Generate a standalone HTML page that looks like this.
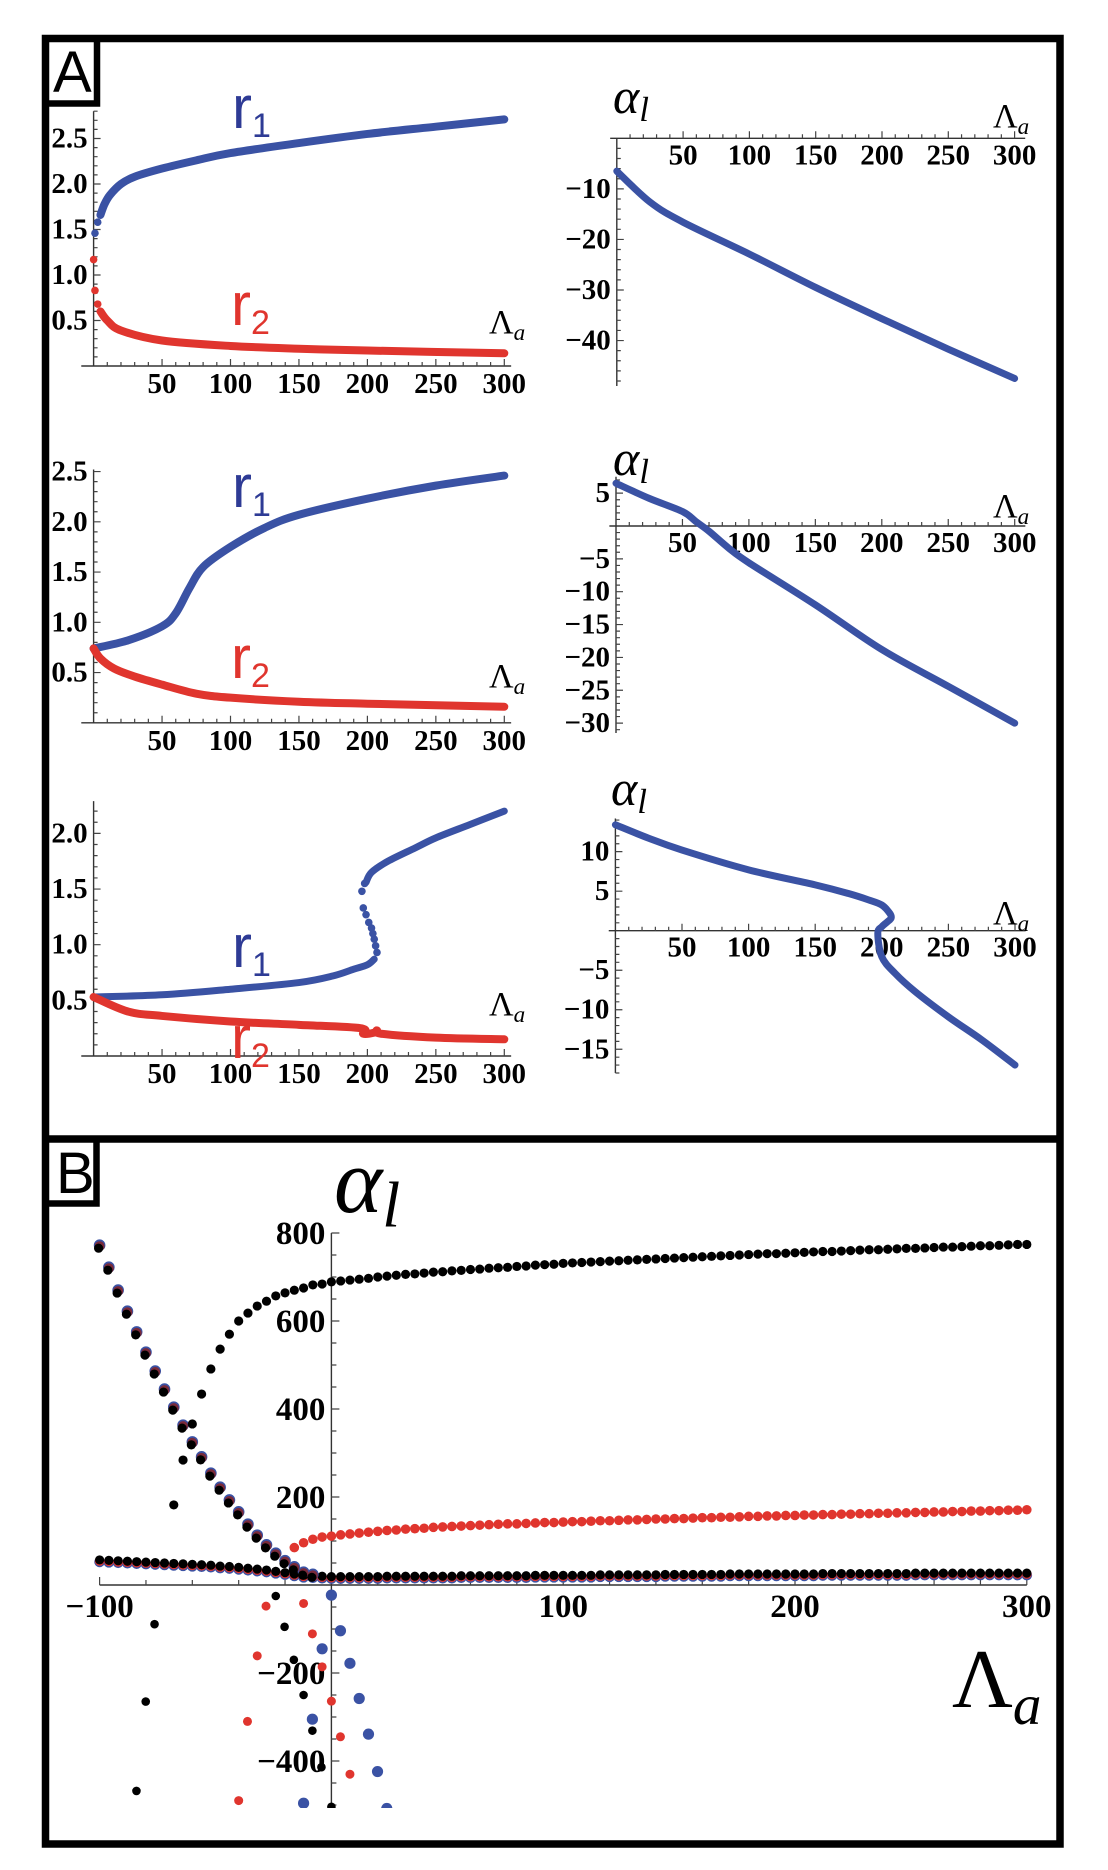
<!DOCTYPE html>
<html><head><meta charset="utf-8"><style>
html,body{margin:0;padding:0;background:#fff;}
svg{display:block;}
.tk{font-family:"Liberation Serif",serif;font-weight:bold;font-size:29px;fill:#000;}
.tkb{font-family:"Liberation Serif",serif;font-weight:bold;font-size:33px;fill:#000;}
.math{font-family:"Liberation Serif",serif;fill:#000;}
.lbl{font-family:"Liberation Sans",sans-serif;}
</style></head>
<body>
<svg id="fig" width="1108" height="1870" viewBox="0 0 1108 1870" xmlns="http://www.w3.org/2000/svg">
<rect x="0" y="0" width="1108" height="1870" fill="#fff"/>
<g fill="none" stroke="#000" stroke-width="7.5">
<rect x="45.5" y="38.5" width="1014.5" height="1805.5"/>
<line x1="45" y1="1139" x2="1060" y2="1139"/>
</g>
<g>
<path d="M45 103.5 H97 V38" fill="none" stroke="#000" stroke-width="6.5"/>
<text x="53" y="92" class="lbl" font-size="58" fill="#000">A</text>
</g>
<g>
<path d="M45 1203.5 H96.5 V1139" fill="none" stroke="#000" stroke-width="6.5"/>
<text x="56" y="1193" class="lbl" font-size="58" fill="#000">B</text>
</g>
<g id="plots"></g>
<defs><clipPath id="bclip"><rect x="50" y="1145" width="1005" height="663"/></clipPath></defs>
</svg>
<script>
// ---------- Panel A data ----------
const p1_r1_x=[5,8,12,20,30,50,75,100,150,200,250,300];
const p1_r1_y=[1.66,1.78,1.88,2.0,2.08,2.17,2.26,2.34,2.45,2.55,2.63,2.71];
const p1_r1_dx=[1,3];
const p1_r1_dy=[1.46,1.58];
const p1_r2_x=[5,10,20,50,100,150,200,300];
const p1_r2_y=[0.6,0.5,0.39,0.28,0.22,0.19,0.17,0.14];
const p1_r2_dx=[0,1,3];
const p1_r2_dy=[1.17,0.83,0.68];
const p1_al_x=[0,25,50,100,150,200,250,300];
const p1_al_y=[-6.5,-12.6,-16.6,-22.9,-29.5,-35.7,-41.7,-47.5];

const p2_r1_x=[0,25,50,60,70,80,100,125,150,200,250,300];
const p2_r1_y=[0.74,0.82,0.96,1.09,1.34,1.55,1.75,1.94,2.07,2.23,2.36,2.46];
const p2_r2_x=[0,5,15,30,50,75,100,150,200,300];
const p2_r2_y=[0.74,0.64,0.54,0.46,0.38,0.29,0.25,0.21,0.19,0.16];
const p2_al_x=[0,25,50,60,70,85,100,150,200,250,300];
const p2_al_y=[6.5,4.2,2.2,0.7,-0.8,-3.4,-5.6,-12,-18.8,-24.4,-30];

const p3_r1_lo_x=[0,50,100,150,175,190,200,205];
const p3_r1_lo_y=[0.53,0.55,0.6,0.66,0.72,0.78,0.82,0.87];
const p3_r1_dx=[207,206,205,204,203,201,199,197,196,198];
const p3_r1_dy=[0.93,0.99,1.05,1.1,1.15,1.2,1.27,1.33,1.48,1.55];
const p3_r1_hi_x=[199,203,215,235,250,275,300];
const p3_r1_hi_y=[1.56,1.65,1.75,1.87,1.96,2.08,2.2];
const p3_r2_x=[0,25,50,100,150,195,197,205,207,210,250,300];
const p3_r2_y=[0.53,0.40,0.36,0.31,0.28,0.25,0.2,0.21,0.23,0.2,0.165,0.15];
const p3_al_x=[0,25,50,100,150,175,190,200,206,207,204,200,197,200,210,225,250,275,300];
const p3_al_y=[13.4,11.7,10.2,7.7,5.8,4.7,3.9,3.25,2.2,1.6,1.1,0.5,-0.3,-3.3,-5.4,-7.7,-10.9,-13.8,-17];

const leftTicksX=[50,100,150,200,250,300];
const p1_yTicks=[0.5,1.0,1.5,2.0,2.5];
const p2_yTicks=[0.5,1.0,1.5,2.0,2.5];
const p3_yTicks=[0.5,1.0,1.5,2.0];
const r1_yTicks=[-10,-20,-30,-40];
const r2_yTicks=[5,-5,-10,-15,-20,-25,-30];
const r3_yTicks=[10,5,-5,-10,-15];

// ---------- Panel B data ----------
const bUp_x=[-68,-64,-60,-56,-52,-48,-44,-40,-36,-32,-28,-24,-20,-16,-12,-8,-4,0,4,8,12,16,20,24,28,32,36,40,44,48,52,56,60,64,68,72,76,80,84,88,92,96,100,104,108,112,116,120,124,128,132,136,140,144,148,152,156,160,164,168,172,176,180,184,188,192,196,200,204,208,212,216,220,224,228,232,236,240,244,248,252,256,260,264,268,272,276,280,284,288,292,296,300];
const bUp_y=[182,284,366,434,491,536,570,600,618,634,645,657,664,670,675,682,684,689,691,693,695,697,700,702,704,706,707,709,711,712,714,715,717,718,720,721,722,724,725,727,728,729,731,732,733,734,735,736,737,738,739,740,741,742,743,744,745,746,747,748,749,750,751,752,753,753,754,755,756,757,758,758,759,760,761,762,762,763,764,765,765,766,767,768,768,769,770,771,771,772,773,774,774];
const rUp_x=[-16,-12,-8,-4,0,4,8,12,16,20,24,28,32,36,40,44,48,52,56,60,64,68,72,76,80,84,88,92,96,100,104,108,112,116,120,124,128,132,136,140,144,148,152,156,160,164,168,172,176,180,184,188,192,196,200,204,208,212,216,220,224,228,232,236,240,244,248,252,256,260,264,268,272,276,280,284,288,292,296,300];
const rUp_y=[85,96,104,109,111,114,116,118,120,122,124,125,127,128,129,131,132,133,134,135,136,137,138,139,139,140,141,142,142,143,144,144,145,146,146,147,148,148,149,150,150,151,151,152,153,153,154,154,155,156,156,157,157,158,158,159,159,160,160,161,161,162,162,163,163,164,164,165,165,166,166,167,167,168,168,169,169,170,170,171];
const diag_x=[-100,-96,-92,-88,-84,-80,-76,-72,-68,-64,-60,-56,-52,-48,-44,-40,-36,-32,-28,-24,-20,-16,-12,-8];
const diag_y=[770,720,668,620,573,527,484,443,402,361,323,289,252,220,191,164,136,111,89,70,53,39,27,22];
const low_x=[-100,-96,-92,-88,-84,-80,-76,-72,-68,-64,-60,-56,-52,-48,-44,-40,-36,-32,-28,-24,-20,-16,-12,-8,-4,0,4,8,12,16,20,24,28,32,36,40,44,48,52,56,60,64,68,72,76,80,84,88,92,96,100,104,108,112,116,120,124,128,132,136,140,144,148,152,156,160,164,168,172,176,180,184,188,192,196,200,204,208,212,216,220,224,228,232,236,240,244,248,252,256,260,264,268,272,276,280,284,288,292,296,300];
const low_y=[57,56,55,54,53,52,51,50,49,48,47,46,45,43,42,40,38,36,34,31,28,25,22,21,20,19,19,19,19,19,19,20,20,20,20,20,20,20,20,21,21,21,21,21,21,21,21,22,22,22,22,22,22,22,23,23,23,23,23,23,23,24,24,24,24,24,24,24,25,25,25,25,25,25,25,25,25,25,26,26,26,26,26,26,26,26,26,26,27,27,27,27,27,27,27,27,27,27,27,27,27];
const negK_x=[-24,-76.3,-20.2,-16.2,-80.1,-12,-8.2,-4.3,-84.1,0];
const negK_y=[-25,-89,-95,-170,-265,-250,-331,-414,-468,-504];
const negR_x=[-28.2,-12,-8.2,-32,-4,0,-36.2,3.9,8,-40];
const negR_y=[-48,-42,-111,-161,-186,-264,-310,-345,-430,-490];
const negB_x=[0,3.9,-4,8,12,-8.2,16,19.9,-12,23.9];
const negB_y=[-23,-104,-145,-178,-258,-305,-339,-424,-496,-508];
const bTicksX=[-100,100,200,300];
const bTicksY=[800,600,400,200,-200,-400];

// ---------- drawing ----------
const NS="http://www.w3.org/2000/svg";
const root=document.getElementById('plots');
const BLUE="#3a52a4", RED="#e0352e";
function el(tag,parent){const e=document.createElementNS(NS,tag);parent.appendChild(e);return e;}
function mkScale(x0,xs,y0,ys){return {x:v=>x0+v*xs,y:v=>y0-v*ys,x0:x0,y0:y0};}

function axes(g,S,xr,yr,xminor,xmajor,yminor,ymajor,maj,mnr){
  const ax=el('line',g);
  
  
  ax.setAttribute('x1',S.x(xr[0]));ax.setAttribute('x2',S.x(xr[1]));
  ax.setAttribute('y1',S.y(0));ax.setAttribute('y2',S.y(0));
  ax.setAttribute('stroke','#333');ax.setAttribute('stroke-width','1.4');
  const ay=el('line',g);
  
  
  ay.setAttribute('x1',S.x(0));ay.setAttribute('x2',S.x(0));
  ay.setAttribute('y1',S.y(yr[0]));ay.setAttribute('y2',S.y(yr[1]));
  ay.setAttribute('stroke','#333');ay.setAttribute('stroke-width','1.4');
  let d='';
  for(let v=Math.ceil(xr[0]/xminor)*xminor; v<=xr[1]+1e-9; v+=xminor){
    if(Math.abs(v)<1e-9)continue;
    const L=(Math.abs(v/xmajor-Math.round(v/xmajor))<1e-6)?maj:mnr;
    d+='M'+S.x(v)+' '+S.y(0)+'v'+(-L);
  }
  for(let v=Math.ceil(yr[0]/yminor)*yminor; v<=yr[1]+1e-9; v+=yminor){
    if(Math.abs(v)<1e-9)continue;
    const L=(Math.abs(v/ymajor-Math.round(v/ymajor))<1e-6)?maj:mnr;
    d+='M'+S.x(0)+' '+S.y(v)+'h'+L;
  }
  const t=el('path',g);
  
  
  t.setAttribute('d',d);t.setAttribute('stroke','#444');t.setAttribute('stroke-width','1.2');t.setAttribute('fill','none');
}
function fmt(v,dec){const s=Math.abs(v).toFixed(dec);return (v<0?'\u2212':'')+s;}
function xLabels(g,S,ticks,dy,cls){
  ticks.forEach(v=>{const t=el('text',g);
    
    
    t.setAttribute('x',S.x(v));t.setAttribute('y',S.y(0)+dy);t.setAttribute('text-anchor','middle');t.setAttribute('class',cls);t.textContent=fmt(v,0);});
}
function yLabels(g,S,ticks,dec,dy,cls){
  ticks.forEach(v=>{const t=el('text',g);
    
    
    t.setAttribute('x',S.x(0)-6);t.setAttribute('y',S.y(v)+dy);t.setAttribute('text-anchor','end');t.setAttribute('class',cls);t.textContent=fmt(v,dec);});
}
function smoothPath(pts){
  let d='M'+pts[0][0]+' '+pts[0][1];
  for(let i=0;i<pts.length-1;i++){
    const p0=pts[Math.max(i-1,0)],p1=pts[i],p2=pts[i+1],p3=pts[Math.min(i+2,pts.length-1)];
    const c1x=p1[0]+(p2[0]-p0[0])/6,c1y=p1[1]+(p2[1]-p0[1])/6;
    const c2x=p2[0]-(p3[0]-p1[0])/6,c2y=p2[1]-(p3[1]-p1[1])/6;
    d+=' C'+c1x+' '+c1y+' '+c2x+' '+c2y+' '+p2[0]+' '+p2[1];
  }
  return d;
}
function line(g,S,xs,ys,color,name,w){
  const p=el('path',g);
  
  
  p.setAttribute('d',smoothPath(xs.map((x,i)=>[S.x(x),S.y(ys[i])])));
  p.setAttribute('fill','none');p.setAttribute('stroke',color);p.setAttribute('stroke-width',w||7);
  p.setAttribute('stroke-linecap','round');p.setAttribute('stroke-linejoin','round');
}
function dots(g,S,xs,ys,color,r,name,dx,dy){
  xs.forEach((x,i)=>{const c=el('circle',g);
    
    
    c.setAttribute('cx',S.x(x)+(dx||0));c.setAttribute('cy',S.y(ys[i])+(dy||0));c.setAttribute('r',r);c.setAttribute('fill',color);});
}
function rLabel(g,x,y,num,color,name){
  const t=el('text',g);
  
  
  t.setAttribute('x',x);t.setAttribute('y',y);t.setAttribute('class','lbl');t.setAttribute('fill',color);t.setAttribute('font-size','60');
  t.innerHTML='r<tspan font-size="34" dy="9">'+num+'</tspan>';
}
function lamLabel(g,x,y,fs,name){
  const t=el('text',g);
  
  
  t.setAttribute('x',x);t.setAttribute('y',y);t.setAttribute('class','math');t.setAttribute('font-size',fs);
  t.innerHTML='\u039B<tspan font-style="italic" font-size="'+(fs*0.68)+'" dy="'+(fs*0.2)+'">a</tspan>';
}
function alLabel(g,x,y,fs,name){
  const t=el('text',g);
  
  
  t.setAttribute('x',x);t.setAttribute('y',y);t.setAttribute('class','math');t.setAttribute('font-size',fs);t.setAttribute('font-style','italic');
  t.innerHTML='\u03B1<tspan font-size="'+(fs*0.7)+'" dy="'+(fs*0.16)+'">l</tspan>';
}
function panel(name){const g=el('g',root);return g;}

// Row 1
let g=panel('plot-r-row1');
let S=mkScale(93.6,1.369,366,91);
axes(g,S,[-9,305],[0,2.8],10,50,0.1,0.5,7,4);
xLabels(g,S,leftTicksX,27,'tk'); yLabels(g,S,p1_yTicks,1,9,'tk');
line(g,S,p1_r1_x,p1_r1_y,BLUE,'r1-curve',8); dots(g,S,p1_r1_dx,p1_r1_dy,BLUE,3.8,'r1-point');
line(g,S,p1_r2_x,p1_r2_y,RED,'r2-curve',8); dots(g,S,p1_r2_dx,p1_r2_dy,RED,3.8,'r2-point');
rLabel(g,232,128,'1','#2e3b95','r1-label'); rLabel(g,231,325,'2',RED,'r2-label');
lamLabel(g,489,333,34,'x-axis-title');

g=panel('plot-alpha-row1');
S=mkScale(616.8,1.326,138.3,5.056);
axes(g,S,[-5,308],[-49,0],10,50,2,10,7,4);
xLabels(g,S,leftTicksX,26,'tk'); yLabels(g,S,r1_yTicks,0,9,'tk');
line(g,S,p1_al_x,p1_al_y,BLUE,'alpha-curve',7);
alLabel(g,613,113,50,'y-axis-title'); lamLabel(g,993,127,34,'x-axis-title');

// Row 2
g=panel('plot-r-row2');
S=mkScale(93.6,1.369,722.8,100.5);
axes(g,S,[-9,305],[0,2.52],10,50,0.1,0.5,7,4);
xLabels(g,S,leftTicksX,27,'tk'); yLabels(g,S,p2_yTicks,1,9,'tk');
line(g,S,p2_r1_x,p2_r1_y,BLUE,'r1-curve',8);
line(g,S,p2_r2_x,p2_r2_y,RED,'r2-curve',8);
rLabel(g,232,507,'1','#2e3b95','r1-label'); rLabel(g,231,678,'2',RED,'r2-label');
lamLabel(g,489,687,34,'x-axis-title');

g=panel('plot-alpha-row2');
S=mkScale(616,1.329,526,6.571);
axes(g,S,[-5,308],[-31.5,7.5],10,50,1,5,7,4);
xLabels(g,S,leftTicksX,26,'tk'); yLabels(g,S,r2_yTicks,0,9,'tk');
line(g,S,p2_al_x,p2_al_y,BLUE,'alpha-curve',7);
alLabel(g,613,475,50,'y-axis-title'); lamLabel(g,993,517,34,'x-axis-title');

// Row 3
g=panel('plot-r-row3');
S=mkScale(93.6,1.369,1056,111.3);
axes(g,S,[-9,305],[0,2.29],10,50,0.1,0.5,7,4);
xLabels(g,S,leftTicksX,27,'tk'); yLabels(g,S,p3_yTicks,1,9,'tk');
line(g,S,p3_r1_lo_x,p3_r1_lo_y,BLUE,'r1-curve',7);
dots(g,S,p3_r1_dx,p3_r1_dy,BLUE,3.8,'r1-point');
line(g,S,p3_r1_hi_x,p3_r1_hi_y,BLUE,'r1-curve',7);
line(g,S,p3_r2_x,p3_r2_y,RED,'r2-curve',8);
rLabel(g,232,967,'1','#2e3b95','r1-label'); rLabel(g,231,1058,'2',RED,'r2-label');
lamLabel(g,489,1015,34,'x-axis-title');

g=panel('plot-alpha-row3');
S=mkScale(615.4,1.332,930.7,7.904);
axes(g,S,[-5,308],[-18,14.2],10,50,1,5,7,4);
xLabels(g,S,leftTicksX,26,'tk'); yLabels(g,S,r3_yTicks,0,9,'tk');
line(g,S,p3_al_x,p3_al_y,BLUE,'alpha-curve',7);
alLabel(g,611,805,50,'y-axis-title'); lamLabel(g,993,924,34,'x-axis-title');

// Panel B
g=panel('plot-b');
S=mkScale(331.4,2.318,1585,0.44);
axes(g,S,[-100,300],[-505,800],20,100,50,200,8,5);
xLabels(g,S,bTicksX,32,'tkb'); yLabels(g,S,bTicksY,0,11,'tkb');
const gb=el('g',g);


gb.setAttribute('clip-path','url(#bclip)');
dots(gb,S,low_x,low_y,BLUE,5.3,'branch-low-blue',0,2);
dots(gb,S,low_x,low_y,RED,4.8,'branch-low-red',0,1);
dots(gb,S,low_x,low_y,'#000',4.6,'branch-low-black',0,0);
dots(gb,S,diag_x,diag_y,BLUE,5.8,'branch-diag-blue',0,-1);
dots(gb,S,diag_x,diag_y,'#7a2a3a',5,'branch-diag-red',0,0);
dots(gb,S,diag_x,diag_y,'#000',4.6,'branch-diag-black',-1,2);
dots(gb,S,bUp_x,bUp_y,'#000',4.6,'branch-upper-black');
dots(gb,S,rUp_x,rUp_y,RED,4.8,'branch-upper-red');
dots(gb,S,negB_x,negB_y,BLUE,5.6,'branch-neg-blue');
dots(gb,S,negR_x,negR_y,RED,4.5,'branch-neg-red');
dots(gb,S,negK_x,negK_y,'#000',4.3,'branch-neg-black');
alLabel(g,334,1212,92,'y-axis-title');
lamLabel(g,952,1707,84,'x-axis-title');
</script>
</body></html>
